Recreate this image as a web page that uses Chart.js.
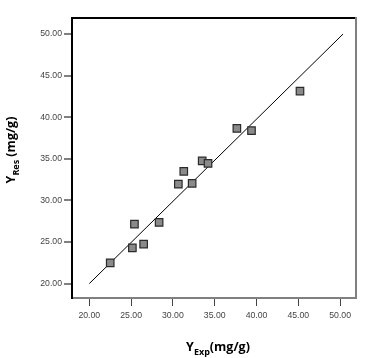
<!DOCTYPE html>
<html>
<head>
<meta charset="utf-8">
<script src="https://cdn.jsdelivr.net/npm/chart.js@4"></script>
<style>
html,body{margin:0;padding:0;background:#fff;}
#wrap{width:374px;height:358px;position:relative;}
</style>
</head>
<body>
<div id="wrap"><canvas id="c" width="374" height="358"></canvas></div>
<script>
// Data
const expValues = [22.5, 25.15, 25.4, 26.5, 28.35, 30.65, 31.3, 32.3, 33.5, 34.2, 37.65, 39.4, 45.2];
const resValues = [22.5, 24.3, 27.15, 24.75, 27.35, 31.95, 33.5, 32.05, 34.75, 34.45, 38.65, 38.4, 43.15];
const lineX = [20, 50.35];
const lineY = [20, 50];
const tickValues = [20, 25, 30, 35, 40, 45, 50];

const points = expValues.map((x, i) => ({x: x, y: resValues[i]}));
const linePts = lineX.map((x, i) => ({x: x, y: lineY[i]}));

const framePlugin = {
  id: 'frame',
  afterDraw(chart) {
    const ctx = chart.ctx;
    const a = chart.chartArea;
    ctx.save();
    ctx.lineWidth = 2;
    ctx.strokeStyle = '#000';
    ctx.beginPath(); ctx.moveTo(a.left - 1, a.top); ctx.lineTo(a.right, a.top); ctx.stroke();
    ctx.strokeStyle = '#808080';
    ctx.beginPath(); ctx.moveTo(a.right, a.top - 1); ctx.lineTo(a.right, a.bottom + 1); ctx.stroke();

    function drawTitle(parts, cx, cy, rot) {
      ctx.save();
      ctx.translate(cx, cy);
      ctx.rotate(rot);
      let total = 0;
      parts.forEach(p => { ctx.font = p.font; p.w = ctx.measureText(p.t).width; total += p.w; });
      let x = -total / 2;
      ctx.fillStyle = '#000';
      ctx.textBaseline = 'alphabetic';
      ctx.textAlign = 'left';
      parts.forEach(p => { ctx.font = p.font; ctx.fillText(p.t, x, p.dy); x += p.w; });
      ctx.restore();
    }
    const big = 'bold 12.5px "Open Sans", "Liberation Sans", sans-serif';
    const small = 'bold 9px "Open Sans", "Liberation Sans", sans-serif';
    drawTitle([{t:'Y', font: big, dy: 0}, {t:'Exp', font: small, dy: 4}, {t:'(mg/g)', font: big, dy: 0}], 218, 351, 0);
    drawTitle([{t:'Y', font: big, dy: 0}, {t:'Res', font: small, dy: 4}, {t:' (mg/g)', font: big, dy: 0}], 15, 150, -Math.PI / 2);
    ctx.restore();
  }
};

const tickFont = {family: '"Liberation Sans", Arial, sans-serif', size: 8.7};

new Chart(document.getElementById('c'), {
  type: 'scatter',
  data: {
    datasets: [
      {
        type: 'line',
        data: linePts,
        borderColor: '#000',
        borderWidth: 1,
        pointRadius: 0,
        fill: false,
        order: 2
      },
      {
        data: points,
        pointStyle: 'rect',
        pointRadius: 5.3,
        pointHoverRadius: 5.3,
        backgroundColor: '#8a8a8a',
        borderColor: '#2b2b2b',
        borderWidth: 1.2,
        order: 1
      }
    ]
  },
  options: {
    responsive: false,
    animation: false,
    events: [],
    layout: {padding: {left: 0, top: 18, right: 18, bottom: 0}},
    plugins: {legend: {display: false}, tooltip: {enabled: false}},
    scales: {
      x: {
        type: 'linear',
        min: 17.93,
        max: 51.9,
        afterBuildTicks(s) { s.ticks = tickValues.map(v => ({value: v})); },
        afterFit(s) { s.height = 60; },
        border: {display: true, color: '#808080', width: 2},
        grid: {display: true, drawOnChartArea: false, drawTicks: true, tickLength: 8, color: '#444', lineWidth: 1},
        ticks: {
          font: tickFont, color: '#444', padding: 4, maxRotation: 0,
          callback: v => Number(v).toFixed(2)
        }
      },
      y: {
        type: 'linear',
        min: 18.27,
        max: 51.93,
        afterBuildTicks(s) { s.ticks = tickValues.map(v => ({value: v})); },
        afterFit(s) { s.width = 72; },
        border: {display: true, color: '#000', width: 2},
        grid: {display: true, drawOnChartArea: false, drawTicks: true, tickLength: 8, color: '#808080', lineWidth: 2},
        ticks: {
          font: tickFont, color: '#444', padding: 2,
          callback: v => Number(v).toFixed(2)
        }
      }
    }
  },
  plugins: [framePlugin]
});
</script>
</body>
</html>
